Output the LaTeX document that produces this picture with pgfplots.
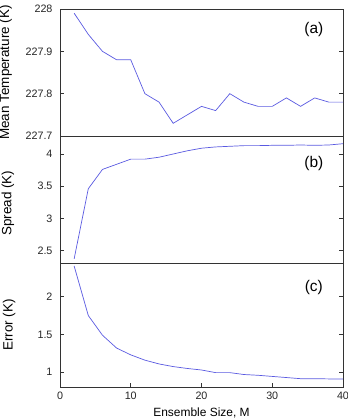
\documentclass[border=0pt]{standalone}
\usepackage{pgfplots}
\pgfplotsset{compat=1.18}
\usepackage{fontspec}
\setmainfont{Liberation Sans}

\definecolor{framegray}{RGB}{51,51,51}
\definecolor{lineblue}{RGB}{90,90,225}

\tikzset{
  series/.style={lineblue, line width=0.7bp, mark=none},
  tag/.style={font=\fontsize{15.5}{18}\selectfont, anchor=center},
}

\pgfplotsset{
  panel/.style={
    scale only axis,
    width=283bp,
    xmin=0, xmax=40,
    axis line style={framegray, line width=0.8bp},
    tick style={framegray, line width=0.6bp},
    major tick length=3.5bp,
    tick align=inside,
    ytick pos=both,
    xtick pos=bottom,
    ticklabel style={font=\fontsize{10.8}{12}\selectfont, text=black!85},
    yticklabel style={xshift=-4bp},
    xticklabel style={yshift=-1.5bp},
    /pgf/number format/assume math mode=true,
    label style={text=black!80},
    every axis y label/.style={rotate=90, anchor=center, font=\fontsize{13.5}{15}\selectfont},
    every axis x label/.style={anchor=center, font=\fontsize{12}{14}\selectfont},
    clip=true,
  },
}

\begin{document}
\begin{tikzpicture}

% (a) ensemble mean temperature
\begin{axis}[panel,
  at={(60bp,284bp)}, anchor=south west, height=127bp,
  ymin=227.7, ymax=228,
  ytick={227.7,227.8,227.9,228},
  yticklabels={227.7,227.8,227.9,228},
  xtick={0,10,20,30,40}, xticklabels={},
  xtick style={draw=none},
  ylabel={Mean Temperature (K)},
  ylabel style={at={(axis description cs:-0.192,0.5)}},
]
\addplot[series] coordinates {
  (2,227.99) (4,227.94) (6,227.90) (8,227.88) (10,227.88)
  (12,227.80) (14,227.78) (16,227.73) (18,227.75) (20,227.77)
  (22,227.76) (24,227.80) (26,227.78) (28,227.77) (30,227.77)
  (32,227.79) (34,227.77) (36,227.79) (38,227.78) (40,227.78)
};
\node[tag] at (axis description cs:0.897,0.835) {(a)};
\end{axis}

% (b) ensemble spread
\begin{axis}[panel,
  at={(60bp,157bp)}, anchor=south west, height=127bp,
  ymin=2.305, ymax=4.28,
  ytick={2.5,3,3.5,4},
  yticklabels={2.5,3,3.5,4},
  xtick={0,10,20,30,40}, xticklabels={},
  xtick style={draw=none},
  ylabel={Spread (K)},
  ylabel style={at={(axis description cs:-0.184,0.47)}},
]
\addplot[series] coordinates {
  (2,2.37) (4,3.46) (6,3.76) (8,3.84) (10,3.92)
  (12,3.92) (14,3.95) (16,4.00) (18,4.05) (20,4.09)
  (22,4.11) (24,4.12) (26,4.13) (28,4.13) (30,4.135)
  (32,4.135) (34,4.14) (36,4.135) (38,4.14) (40,4.16)
};
\node[tag] at (axis description cs:0.897,0.78) {(b)};
\end{axis}

% (c) ensemble-mean error
\begin{axis}[panel,
  at={(60bp,33bp)}, anchor=south west, height=124bp,
  ymin=0.805, ymax=2.445,
  ytick={1,1.5,2},
  yticklabels={1,1.5,2},
  xtick={0,10,20,30,40},
  xticklabels={0,10,20,30,40},
  xlabel={Ensemble Size, M},
  xlabel style={at={(axis description cs:0.5,-0.21)}},
  ylabel={Error (K)},
  ylabel style={at={(axis description cs:-0.18,0.5)}},
]
\addplot[series] coordinates {
  (2,2.405) (4,1.75) (6,1.49) (8,1.32) (10,1.23)
  (12,1.16) (14,1.11) (16,1.075) (18,1.05) (20,1.03)
  (22,0.995) (24,0.995) (26,0.97) (28,0.96) (30,0.945)
  (32,0.93) (34,0.915) (36,0.915) (38,0.912) (40,0.91)
};
\node[tag] at (axis description cs:0.897,0.80) {(c)};
\end{axis}

\pgfresetboundingbox
\useasboundingbox (0bp,0bp) rectangle (348bp,420bp);
\end{tikzpicture}
\end{document}
